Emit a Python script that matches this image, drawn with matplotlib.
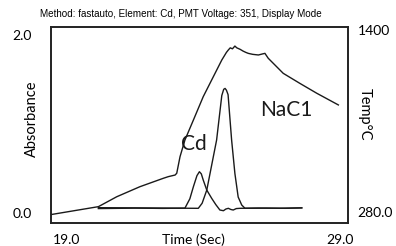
import matplotlib
matplotlib.use("Agg")
import matplotlib.pyplot as plt

# ---- data ----
title = "Method: fastauto, Element: Cd, PMT Voltage: 351, Display Mode"
x_ticks = [19.0, 29.0]
x_tick_labels = ["19.0", "29.0"]
abs_ticks = [0.0, 2.0]
abs_tick_labels = ["0.0", "2.0"]
temp_ticks = [280.0, 1400.0]
temp_tick_labels = ["280.0", "1400"]

temp_time = [18.44, 20.15, 20.82, 21.67, 22.53, 22.71, 22.96, 23.02, 23.14, 23.32,
             23.63, 23.99, 24.36, 24.67, 24.84, 24.91, 24.98, 25.06, 25.15, 25.22,
             25.34, 25.45, 25.55, 25.64, 25.80, 26.01, 26.15, 26.25, 26.37, 26.92,
             27.53, 28.15, 28.94]
temp_vals = [263, 311, 372, 434, 486, 496, 506, 517, 619, 722,
             845, 989, 1112, 1215, 1262, 1277, 1290, 1284, 1301, 1290,
             1281, 1270, 1262, 1256, 1250, 1246, 1252, 1256, 1226, 1133,
             1071, 1010, 938]

cd_time = [20.15, 21.5, 22.5, 23.32, 23.50, 23.63, 23.76, 23.85, 23.92, 23.99,
           24.12, 24.30, 24.45, 24.60, 24.73, 24.82, 24.91, 25.00, 25.09, 25.20,
           25.34, 26.0, 26.8, 27.6]
cd_abs = [0.050, 0.055, 0.052, 0.055, 0.160, 0.296, 0.420, 0.464, 0.440, 0.371,
          0.258, 0.165, 0.095, 0.034, 0.026, 0.045, 0.053, 0.040, 0.034, 0.050,
          0.053, 0.056, 0.054, 0.058]

nacl_time = [20.15, 21.5, 22.5, 23.3, 23.81, 23.95, 24.12, 24.30, 24.48, 24.67,
             24.74, 24.79, 24.84, 24.90, 25.03, 25.15, 25.27, 25.40, 25.52, 26.3,
             27.0, 27.6]
nacl_abs = [0.060, 0.058, 0.056, 0.054, 0.053, 0.110, 0.258, 0.539, 0.820, 1.320,
            1.390, 1.400, 1.380, 1.330, 0.820, 0.444, 0.180, 0.090, 0.053, 0.055,
            0.053, 0.058]

label_cd = ("Cd", 23.63, 0.78)
label_nacl = ("NaC1", 27.05, 1.16)

# ---- figure ----
W, H = 396, 246
fig = plt.figure(figsize=(W / 100, H / 100), dpi=100)
ax = fig.add_axes([51 / W, 1 - 223 / H, (348 - 51) / W, (223 - 27) / H])
ax2 = ax.twinx()

lc = "#1a1a1a"
ax.plot(cd_time, cd_abs, color=lc, lw=1.0)
ax.plot(nacl_time, nacl_abs, color=lc, lw=1.0)
ax2.plot(temp_time, temp_vals, color=lc, lw=1.0)

ax.set_xlim(18.414, 29.293)
ax.set_ylim(-0.112, 2.09)
ax2.set_ylim(210.3, 1418.5)

fnt = "Lato"
ax.set_xticks(x_ticks)
ax.set_xticklabels(x_tick_labels, fontsize=10, family=fnt)
ax.set_yticks(abs_ticks)
ax.set_yticklabels(abs_tick_labels, fontsize=10, family=fnt)
ax2.set_yticks(temp_ticks)
ax2.set_yticklabels(temp_tick_labels, fontsize=10, family=fnt)
ax.tick_params(axis="x", length=0, pad=8)
ax.tick_params(axis="y", length=0, pad=14)
ax2.tick_params(axis="y", length=0, pad=7)

for a in (ax, ax2):
    for s in a.spines.values():
        s.set_linewidth(1.2)
        s.set_color("#222222")

ax.set_xlabel("Time (Sec)", fontsize=10, family=fnt, va="center")
ax.xaxis.set_label_coords((193 - 51) / 297, (223 - 240) / 196)
ax.set_ylabel("Absorbance", fontsize=10.5, family=fnt, va="center")
ax.yaxis.set_label_coords((32 - 51) / 297, (223 - 119) / 196)
ax2.set_ylabel("Temp°C", fontsize=10.5, family=fnt, rotation=270, va="center")
ax2.yaxis.set_label_coords((365 - 51) / 297, (223 - 114) / 196)

ax.text(label_cd[1], label_cd[2], label_cd[0], fontsize=15, family=fnt,
        ha="center", va="center", color=lc)
ax.text(label_nacl[1], label_nacl[2], label_nacl[0], fontsize=15, family=fnt,
        ha="center", va="center", color=lc)

fig.text(181 / W, 1 - 14 / H, title, fontsize=7.1, family="Liberation Sans",
         ha="center", va="center")

fig.savefig("out.png", dpi=100)
